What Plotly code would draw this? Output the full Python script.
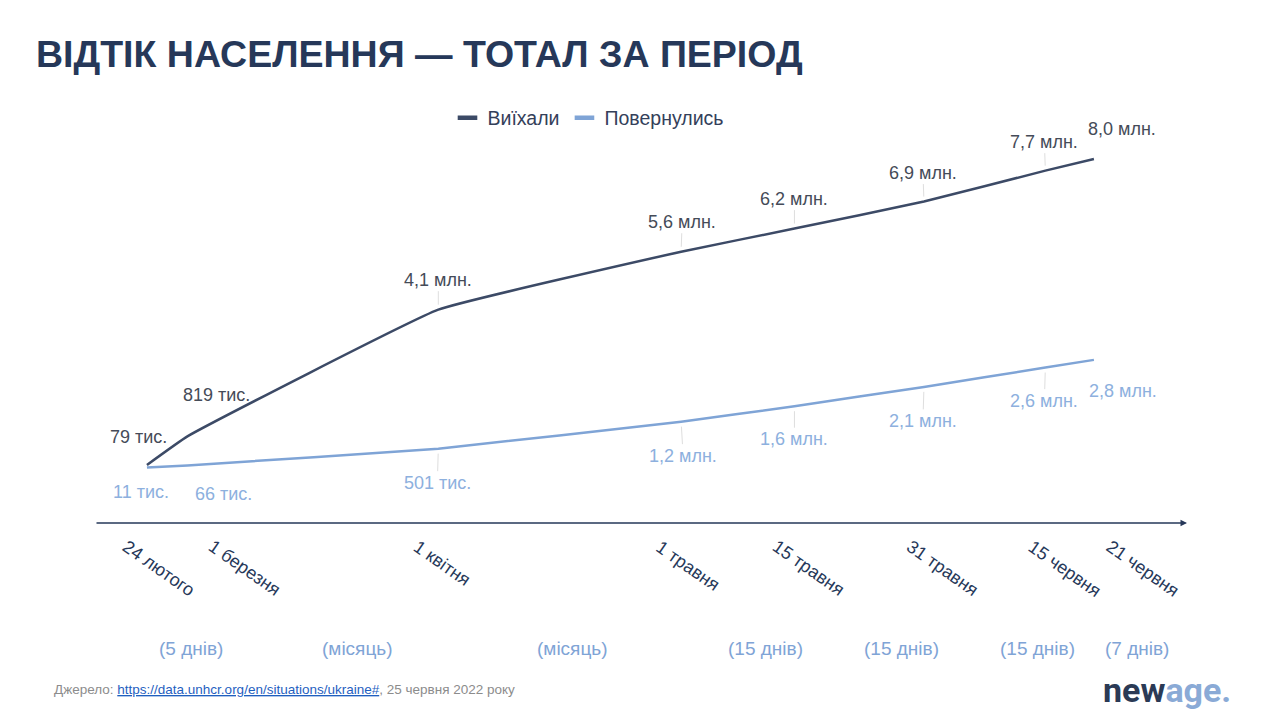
import plotly.graph_objects as go

# дані
dates = ["2022-02-24", "2022-03-01", "2022-04-01", "2022-05-01",
         "2022-05-15", "2022-05-31", "2022-06-15", "2022-06-21"]
date_labels = ["24 лютого", "1 березня", "1 квітня", "1 травня",
               "15 травня", "31 травня", "15 червня", "21 червня"]

left_mln = [0.079, 0.819, 4.1, 5.6, 6.2, 6.9, 7.7, 8.0]
left_text = ["79 тис.", "819 тис.", "4,1 млн.", "5,6 млн.",
             "6,2 млн.", "6,9 млн.", "7,7 млн.", "8,0 млн."]

back_mln = [0.011, 0.066, 0.501, 1.2, 1.6, 2.1, 2.6, 2.8]
back_text = ["11 тис.", "66 тис.", "501 тис.", "1,2 млн.",
             "1,6 млн.", "2,1 млн.", "2,6 млн.", "2,8 млн."]

periods = ["(5 днів)", "(місяць)", "(місяць)", "(15 днів)",
           "(15 днів)", "(15 днів)", "(7 днів)"]

# оформлення
NAVY = "#263859"
DARK = "#3c4a66"
LIGHT = "#7fa4d6"
LABEL_DARK = "#454b58"
LABEL_LIGHT = "#8db0de"
FONT = "Liberation Sans, Arial, sans-serif"

# зсуви підписів (px): (dx, dy, з виноскою чи ні)
left_off = [(-8, -28, False), (29, -41, False), (0, -30, True), (1, -30, True),
            (0, -30, True), (-1, -29, True), (-1, -29, True), (28, -30, False)]
back_off = [(-6, 24, False), (36, 29, False), (-1, 34, True), (2, 34, True),
            (0, 33, True), (-1, 34, True), (-1, 33, True), (29, 31, False)]
tick_shift = [-30, 16, -30, -30, -27, -23, -22, 8]
period_px = [191, 357, 572, 765, 901, 1037, 1137]

OFF = 8  # відступ body у браузері
W, H = 1280, 720
L, T = 95 - OFF, 100 - OFF
R, B = W - (1187 - OFF), H - (523 - OFF)
pw, ph = W - L - R, H - T - B


def xp(px):
    return (px - OFF - L) / pw


def yp(py):
    return (T + ph - (py - OFF)) / ph


fig = go.Figure()
fig.add_trace(go.Scatter(x=dates, y=left_mln, name="Виїхали", mode="lines",
                         showlegend=False,
                         line=dict(color=DARK, width=2.5, shape="spline", smoothing=0.3)))
fig.add_trace(go.Scatter(x=dates, y=back_mln, name="Повернулись", mode="lines",
                         showlegend=False,
                         line=dict(color=LIGHT, width=2.5, shape="spline", smoothing=0.3)))
# легенда з короткими маркерами
for name, col in [("Виїхали", DARK), ("Повернулись", LIGHT)]:
    fig.add_trace(go.Scatter(x=[None], y=[None], name=name, mode="markers",
                             marker=dict(symbol="line-ew-open", size=14, color=col,
                                         line=dict(color=col, width=4.5))))

ann = []
for vals, texts, offs, col in [(left_mln, left_text, left_off, LABEL_DARK),
                               (back_mln, back_text, back_off, LABEL_LIGHT)]:
    for d, v, t, (dx, dy, lead) in zip(dates, vals, texts, offs):
        if lead:
            ann.append(dict(x=d, y=v, text=t, showarrow=True, arrowhead=0,
                            arrowwidth=1, arrowcolor="#dedede", ax=dx, ay=dy,
                            standoff=5, font=dict(size=18, color=col, family=FONT)))
        else:
            ann.append(dict(x=d, y=v, text=t, showarrow=False, xshift=dx, yshift=-dy,
                            font=dict(size=18, color=col, family=FONT)))

# підписи дат
for d, t, s in zip(dates, date_labels, tick_shift):
    ann.append(dict(x=d, y=yp(541), yref="paper", text=t, showarrow=False,
                    textangle=35, xanchor="left", yanchor="top", xshift=s, yshift=6,
                    borderpad=0, font=dict(size=18, color=NAVY, family=FONT)))

# вісь зі стрілкою
ann.append(dict(x=1, y=0, xref="paper", yref="paper", ax=-pw, ay=0, text="",
                showarrow=True, arrowhead=2, arrowsize=1, arrowwidth=1.3,
                arrowcolor=NAVY, standoff=0))

for p, px in zip(periods, period_px):
    ann.append(dict(x=xp(px), y=yp(648), xref="paper", yref="paper",
                    xanchor="center", yanchor="middle",
                    text=p, showarrow=False, font=dict(size=19, color=LIGHT, family=FONT)))

ann.append(dict(x=xp(52), y=yp(689), xref="paper", yref="paper",
                xanchor="left", yanchor="middle", showarrow=False,
                text="Джерело: <a href='https://data.unhcr.org/en/situations/ukraine#' "
                     "style='color:#1f5fbf;text-decoration:underline'>"
                     "https://data.unhcr.org/en/situations/ukraine#</a>, 25 червня 2022 року",
                font=dict(size=13.5, color="#8c8c8c", family=FONT)))

ann.append(dict(x=xp(1233), y=yp(690), xref="paper", yref="paper",
                xanchor="right", yanchor="middle", showarrow=False,
                text="<b>new</b><b><span style='color:#8aaad6'>age.</span></b>",
                font=dict(size=34, color="#2b3a55", family="Roboto, sans-serif")))

fig.update_layout(
    width=W, height=H,
    margin=dict(l=L, r=R, t=T, b=B),
    paper_bgcolor="white", plot_bgcolor="white",
    font=dict(family=FONT),
    title=dict(text="<b>ВІДТІК НАСЕЛЕННЯ — ТОТАЛ ЗА ПЕРІОД</b>",
               x=(36 - OFF) / W, xanchor="left", xref="container",
               y=1 - (54 - OFF) / H, yanchor="middle", yref="container",
               font=dict(size=37.5, color=NAVY, family=FONT)),
    showlegend=True,
    legend=dict(orientation="h", x=xp(588), xanchor="center",
                y=yp(118), yanchor="middle", itemwidth=30,
                font=dict(size=19.5, color="#34405a"), bgcolor="rgba(0,0,0,0)"),
    xaxis=dict(type="date", range=["2022-02-17 14:00", "2022-07-02 12:00"],
               showticklabels=False, showgrid=False, zeroline=False,
               showline=False, ticks=""),
    yaxis=dict(range=[-1.425, 9.53], visible=False, showgrid=False),
    annotations=ann,
)

fig.write_html("out.html")
